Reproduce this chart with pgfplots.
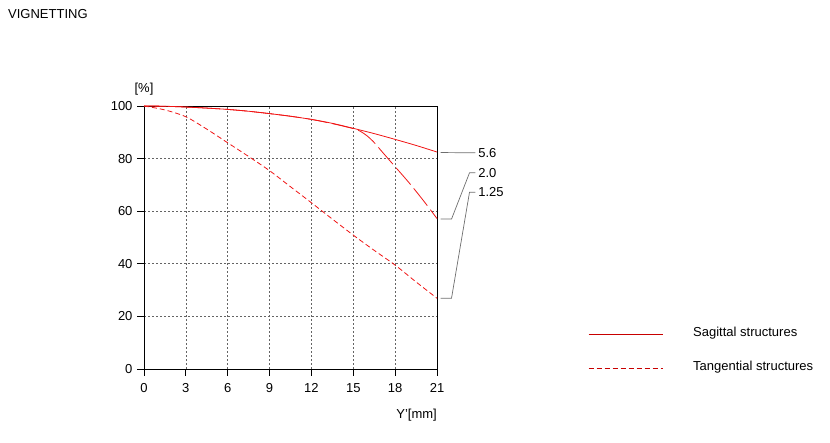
\documentclass[border=0pt]{standalone}
\usepackage{fontspec}
\setmainfont{Liberation Sans}
\usepackage{pgfplots}
\pgfplotsset{compat=1.18}
\definecolor{curve}{RGB}{240,20,20}
\definecolor{legred}{RGB}{200,0,0}
\definecolor{gridc}{RGB}{100,100,100}
\definecolor{annot}{RGB}{110,110,110}
\begin{document}
\fontsize{13}{15}\selectfont
\begin{tikzpicture}
\path[use as bounding box] (0,0) rectangle (830pt,443pt);
\node[anchor=base west, inner sep=0pt] at (8pt,424pt) {VIGNETTING};
\begin{axis}[
  at={(144pt,74pt)}, anchor=south west,
  scale only axis, width=293pt, height=263pt,
  xmin=0, xmax=21, ymin=0, ymax=100,
  xtick={0,3,...,21}, ytick={0,20,...,100},
  grid=major,
  grid style={gridc, line width=0.6pt, dash pattern=on 2pt off 2pt},
  tick align=outside, xtick pos=bottom, ytick pos=left,
  major tick length=7pt,
  tick style={black, line width=0.8pt},
  axis line style={black, line width=0.9pt},
  /pgf/number format/assume math mode=true,
  ticklabel style={font=\fontsize{13}{15}\selectfont},
  xticklabel style={yshift=-3pt},
  clip=false,
]
% 5.6 sagittal
\addplot[curve, line width=0.8pt, smooth] coordinates {
(0,100) (1.5,99.9) (3,99.6) (4.5,99.2) (6,98.7) (7.5,98) (9,97.1) (10.5,96.1) (12,94.9) (13.5,93.4) (15,91.5) (16.5,89.5) (18,87.3) (19.5,85) (21,82.5)};
% 2.0
\addplot[curve, line width=0.8pt, smooth, dash pattern=on 22pt off 5pt] coordinates {
(0,100) (1.5,99.9) (3,99.6) (4.5,99.2) (6,98.7) (7.5,98) (9,97.1) (10.5,96.1) (12,94.9) (13.5,93.3) (15,91.4) (15.5,90.4) (16,88.6) (16.5,86.1) (17,83) (18,76.9) (19,70.8) (20,64.2) (21,57.2)};
% 1.25
\addplot[curve, line width=0.8pt, smooth, dash pattern=on 5pt off 3pt] coordinates {
(0,100) (1.5,98.5) (3,95.9) (4.5,91.2) (6,86) (7.5,80.8) (9,75.4) (10.5,69.3) (12,63.2) (13.5,57) (15,50.9) (16.5,45.1) (18,39.5) (19.5,33.1) (21,26.9)};
% annotations
\draw[annot, line width=0.7pt] (axis cs:21.26,82.3) -- (axis cs:23.75,82.2);
\draw[annot, line width=0.7pt] (axis cs:21.26,57.0) -- (axis cs:22.04,57.0) -- (axis cs:23.33,74.6) -- (axis cs:23.75,74.6);
\draw[annot, line width=0.7pt] (axis cs:21.26,26.9) -- (axis cs:22.04,26.9) -- (axis cs:23.33,67.2) -- (axis cs:23.75,67.2);
\node[anchor=west, inner sep=0pt] at (axis cs:23.95,82.2) {5.6};
\node[anchor=west, inner sep=0pt] at (axis cs:23.95,74.6) {2.0};
\node[anchor=west, inner sep=0pt] at (axis cs:23.95,67.2) {1.25};
% axis labels
\node[anchor=base, inner sep=0pt] at (axis cs:0,105) {[\%]};
\node[anchor=base east, inner sep=0pt] at (axis cs:21,-19) {Y'[mm]};
% legend
\draw[legred, line width=0.8pt] (axis cs:31.86,13.3) -- (axis cs:37.21,13.3);
\draw[legred, line width=0.8pt, dash pattern=on 5pt off 3pt] (axis cs:31.86,0.4) -- (axis cs:37.21,0.4);
\node[anchor=west, inner sep=0pt] at (axis cs:39.35,13.6) {Sagittal structures};
\node[anchor=west, inner sep=0pt] at (axis cs:39.35,0.7) {Tangential structures};
\end{axis}
\end{tikzpicture}
\end{document}
